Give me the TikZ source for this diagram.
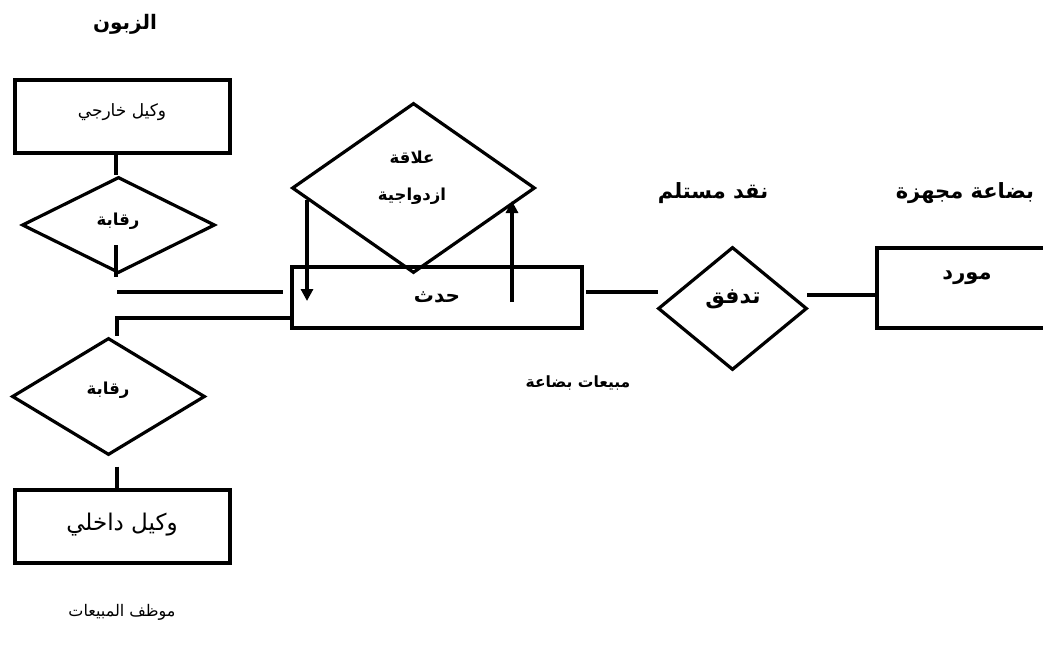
\documentclass[tikz,border=0pt]{standalone}
\usepackage{fontspec}
\usetikzlibrary{shapes.geometric,arrows.meta}
\TeXXeTstate=1
\newfontfamily\arabicfont[Script=Arabic]{DejaVu Sans}
\newcommand{\ar}[1]{\beginR #1\endR}
\begin{document}
\begin{tikzpicture}[x=1pt,y=-1pt,
  box/.style={draw,line width=3.2pt,rectangle,inner sep=0pt},
  dia/.style={draw,line width=3.2pt,diamond,inner sep=0pt},
  conn/.style={line width=3.2pt},
  arr/.style={line width=3.2pt,-{Triangle[length=12pt,width=12pt]}},
  lbl/.style={inner sep=0pt,font=\arabicfont},
  lblb/.style={inner sep=0pt,font=\arabicfont\bfseries}]
\useasboundingbox[fill=white] (0,0) rectangle (1043,650);
% nodes
\node[box,minimum width=215pt,minimum height=73pt] (ext) at (122.5,116.5) {};
\node[lbl,font=\arabicfont\fontsize{17}{20}\selectfont] (extt) at (122,112) {\ar{وكيل خارجي}};
\node[dia,minimum width=193pt,minimum height=96pt] (d1) at (118.5,225) {};
\node[lblb,font=\arabicfont\bfseries\fontsize{16.5}{20}\selectfont] (d1t) at (118,221) {\ar{رقابة}};
\node[dia,minimum width=193pt,minimum height=117pt] (d2) at (108.5,396.5) {};
\node[lblb,font=\arabicfont\bfseries\fontsize{16.5}{20}\selectfont] (d2t) at (108,390) {\ar{رقابة}};
\node[box,minimum width=215pt,minimum height=73pt] (int) at (122.5,526.5) {};
\node[lbl,font=\arabicfont\fontsize{23}{26}\selectfont] (intt) at (122,525) {\ar{وكيل داخلي}};
\node[lbl,font=\arabicfont\fontsize{16}{20}\selectfont] (staff) at (122,612) {\ar{موظف المبيعات}};
\node[lblb,font=\arabicfont\bfseries\fontsize{20}{24}\selectfont] (cust) at (125,24) {\ar{الزبون}};
\node[box,minimum width=290pt,minimum height=61pt] (ev) at (437,297.5) {};
\node[lblb,font=\arabicfont\bfseries\fontsize{20}{24}\selectfont] (evt) at (437,297) {\ar{حدث}};
\node[dia,minimum width=243pt,minimum height=170pt] (rel) at (413.5,188) {};
\node[lblb,align=center,font=\arabicfont\bfseries\fontsize{16.5}{37}\selectfont] (relt) at (412,178) {\ar{علاقة}\\\ar{ازدواجية}};
\node[dia,minimum width=149pt,minimum height=123pt] (flow) at (732.5,308.5) {};
\node[lblb,font=\arabicfont\bfseries\fontsize{22}{26}\selectfont] (flowt) at (733,299) {\ar{تدفق}};
\node[box,minimum width=180pt,minimum height=80pt] (sup) at (967,288) {};
\node[lblb,font=\arabicfont\bfseries\fontsize{21}{26}\selectfont] (supt) at (967,278) {\ar{مورد}};
\node[lblb,font=\arabicfont\bfseries\fontsize{21}{26}\selectfont] (cash) at (713,193) {\ar{نقد مستلم}};
\node[lblb,font=\arabicfont\bfseries\fontsize{21}{26}\selectfont] (goods) at (965,193) {\ar{بضاعة مجهزة}};
\node[lblb,font=\arabicfont\bfseries\fontsize{15.5}{18}\selectfont] (sales) at (578,383) {\ar{مبيعات بضاعة}};
% coordinates for free ends
\coordinate (v1a) at (116,245);
\coordinate (v1b) at (116,277);
\coordinate (h1a) at (117,292);
\coordinate (h1b) at (283,292);
\coordinate (h2a) at (117,318);
\coordinate (r1) at (586,292);
\coordinate (r2) at (658,292);
\coordinate (f1) at (807,295);
% connectors
\draw[conn] (ext.south -| 116,0) -- (d1.north -| 116,0);
\draw[conn] (v1a) -- (v1b);
\draw[conn] (h1a) -- (h1b);
\draw[conn] (ev.west |- h2a) -- (h2a) -- (h2a |- d2.north);
\draw[conn] (d2.south -| 117,0) ++(0,10) -- (int.north -| 117,0);
\draw[conn] (r1) -- (r2);
\draw[conn] (f1) -- (sup.west |- f1);
\draw[arr] (307,200) -- (307,301);
\draw[arr] (512,302) -- (512,201);
\end{tikzpicture}
\end{document}
